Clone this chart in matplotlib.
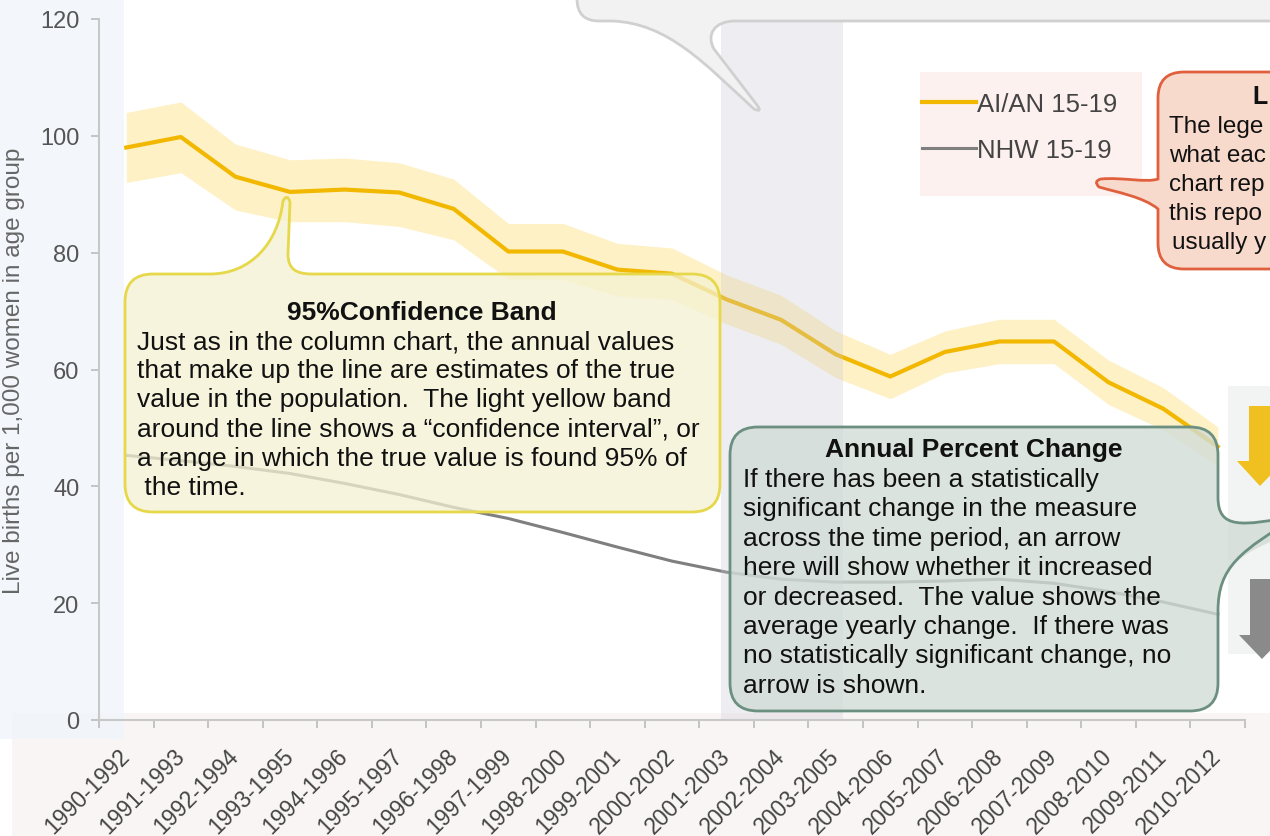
import numpy as np
import matplotlib
matplotlib.use('Agg')
import matplotlib.pyplot as plt
from matplotlib.path import Path
from matplotlib.patches import PathPatch, Rectangle, Polygon

plt.rcParams['font.family'] = ['Liberation Sans', 'DejaVu Sans']

periods = ['1990-1992', '1991-1993', '1992-1994', '1993-1995', '1994-1996', '1995-1997',
           '1996-1998', '1997-1999', '1998-2000', '1999-2001', '2000-2002', '2001-2003',
           '2002-2004', '2003-2005', '2004-2006', '2005-2007', '2006-2008', '2007-2009',
           '2008-2010', '2009-2011', '2010-2012']
aian = [98.0, 99.8, 93.0, 90.4, 90.8, 90.3, 87.5, 80.2, 80.2, 77.1, 76.4,
        72.0, 68.5, 62.6, 58.8, 63.0, 64.8, 64.8, 57.8, 53.3, 46.8]
aian_lo = [92.0, 93.7, 87.3, 85.3, 85.3, 84.5, 82.2, 75.5, 75.4, 72.6, 72.0,
           67.8, 64.3, 58.6, 55.0, 59.4, 61.0, 61.0, 54.0, 49.7, 43.4]
aian_hi = [104.0, 105.8, 98.6, 95.9, 96.2, 95.4, 92.6, 85.0, 85.0, 81.6, 80.8,
           76.2, 72.7, 66.6, 62.6, 66.6, 68.6, 68.6, 61.6, 56.9, 50.2]
nhw = [45.3, 44.4, 43.4, 42.2, 40.5, 38.6, 36.4, 34.5, 32.1, 29.6, 27.2,
       25.3, 24.1, 23.6, 23.6, 23.8, 24.1, 23.4, 22.0, 20.2, 18.1]
yticks = [0, 20, 40, 60, 80, 100, 120]

band_title = '95%Confidence Band'
band_lines = ['Just as in the column chart, the annual values',
              'that make up the line are estimates of the true',
              'value in the population.  The light yellow band',
              'around the line shows a \u201cconfidence interval\u201d, or',
              'a range in which the true value is found 95% of',
              ' the time.']
apc_title = 'Annual Percent Change'
apc_lines = ['If there has been a statistically',
             'significant change in the measure',
             'across the time period, an arrow',
             'here will show whether it increased',
             'or decreased.  The value shows the',
             'average yearly change.  If there was',
             'no statistically significant change, no',
             'arrow is shown.']
# the legend callout runs off the right edge; only these parts are in view
leg_title = 'L'
leg_lines = ['The lege', 'what eac', 'chart rep', 'this repo', 'usually y']

W, H = 1270, 837
fig = plt.figure(figsize=(W / 100, H / 100), dpi=100)

# background strips (pixel coords)
bg = fig.add_axes([0, 0, 1, 1], zorder=0)
bg.set_xlim(0, W); bg.set_ylim(H, 0); bg.axis('off')
bg.add_patch(Rectangle((12, 714), W, H, color='#faf5f5', lw=0))
bg.add_patch(Rectangle((0, 0), 124, 740, color='#eef4fa', alpha=0.7, lw=0))

# main chart
ax = fig.add_axes([99 / W, 1 - 721 / H, 1146 / W, 701 / H], zorder=1)
ax.patch.set_visible(False)
x = np.arange(len(periods))
ax.fill_between(x, aian_lo, aian_hi, color='#fef1c6', lw=0)
ax.plot(x, aian, color='#f2b800', lw=3, label='AI/AN 15-19')
ax.plot(x, nhw, color='#7f7f7f', lw=2.2, label='NHW 15-19')
ax.set_xlim(-0.5, len(periods) - 0.5)
ax.set_ylim(0, 120)
ax.set_yticks(yticks)
ax.set_xticks(np.arange(len(periods) + 1) - 0.5, labels=[])
ax.set_xticks(x, labels=periods, minor=True)
for s in ['top', 'right']:
    ax.spines[s].set_visible(False)
for s in ['left', 'bottom']:
    ax.spines[s].set_color('#c8c8c8')
    ax.spines[s].set_linewidth(1.5)
ax.tick_params(axis='y', length=6, width=1.2, color='#bbbbbb', pad=8,
               labelsize=17, labelcolor='#555555')
ax.tick_params(axis='x', which='major', length=6, width=1.2, color='#bbbbbb')
ax.tick_params(axis='x', which='minor', length=0, pad=23, labelsize=16.5,
               labelcolor='#444444', labelrotation=45)
for lbl in ax.get_xticklabels(minor=True):
    lbl.set_ha('right')
    lbl.set_va('center')
    lbl.set_rotation_mode('anchor')
ax.set_ylabel('Live births per 1,000 women in age group', fontsize=17.5, color='#666666')
ax.yaxis.set_label_coords(-74 / 1146, 0.5)

# overlay for callouts (pixel coords)
ov = fig.add_axes([0, 0, 1, 1], zorder=2)
ov.set_xlim(0, W); ov.set_ylim(H, 0); ov.axis('off')

M, L, C3, C4 = Path.MOVETO, Path.LINETO, Path.CURVE3, Path.CURVE4


def callout(x0, y0, x1, y1, r, side=None, ptr=()):
    v, c = [(x0 + r, y0)], [M]

    def add(code, *pts):
        for p in pts:
            v.append(p); c.append(code)

    def pointer(s):
        if side == s:
            for code, pts in ptr:
                add(code, *pts)

    pointer('top')
    add(L, (x1 - r, y0)); add(C3, (x1, y0), (x1, y0 + r))
    pointer('right')
    add(L, (x1, y1 - r)); add(C3, (x1, y1), (x1 - r, y1))
    pointer('bottom')
    add(L, (x0 + r, y1)); add(C3, (x0, y1), (x0, y1 - r))
    pointer('left')
    add(L, (x0, y0 + r)); add(C3, (x0, y0), (x0 + r, y0))
    add(Path.CLOSEPOLY, (x0 + r, y0))
    return Path(v, c)


# highlighted column
ov.add_patch(Rectangle((721, 0), 122, 720, color='#c9c9d6', alpha=0.3, lw=0, zorder=1))

# legend box
ov.add_patch(Rectangle((920, 73), 222, 124, color='#fcf1ee', lw=0, zorder=1))
leg = ov.legend(handles=ax.get_lines(), loc='upper left', bbox_to_anchor=(922, 93),
                bbox_transform=ov.transData, frameon=False, fontsize=18.5,
                handlelength=2.1, handletextpad=0.05, labelspacing=0.85,
                borderaxespad=0, borderpad=0)
for t in leg.get_texts():
    t.set_color('#444444')

# trend arrows panel
ov.add_patch(Rectangle((1228, 387), 80, 268, color='#f2f3f3', lw=0, zorder=1.5))
ov.add_patch(Polygon([(1249, 407), (1271, 407), (1271, 462), (1284, 462), (1260, 487),
                      (1237, 462), (1249, 462)], closed=True, color='#f0c020', lw=0, zorder=1.6))
ov.add_patch(Polygon([(1250, 580), (1272, 580), (1272, 636), (1285, 636), (1262, 660),
                      (1239, 636), (1250, 636)], closed=True, color='#8a8a8a', lw=0, zorder=1.6))

# top callout (cut by the frame)
top_path = callout(577, -60, 1330, 22, 22, side='bottom',
                   ptr=[(L, [(735, 22)]), (C4, [(714, 22), (706, 36), (714, 50)]),
                        (L, [(757, 106)]), (C3, [(763, 114), (754, 110)]),
                        (C4, [(705, 65), (668, 24), (612, 22)])])
ov.add_patch(PathPatch(top_path, fc='#f2f2f2', ec='#d0d0d0', lw=2, zorder=2))

# confidence band callout
band_path = callout(125, 275, 720, 513, 28, side='top',
                    ptr=[(L, [(210, 275)]), (C4, [(250, 275), (278, 245), (283, 202)]),
                         (C3, [(287, 194), (290, 203)]), (L, [(288, 255)]),
                         (C4, [(288, 270), (296, 275), (312, 275)])])
ov.add_patch(PathPatch(band_path, fc='#f4f1d1', ec='none', alpha=0.75, zorder=2))
ov.add_patch(PathPatch(band_path, fc='none', ec='#e6d84a', lw=2, zorder=2.1))
ov.text(422, 313, band_title, fontsize=19, fontweight='bold', ha='center', va='center',
        color='#111111', zorder=3)
for i, line in enumerate(band_lines):
    ov.text(137, 342 + i * 29.2, line, fontsize=19, ha='left', va='center',
            color='#111111', zorder=3)

# annual percent change callout
apc_path = callout(730, 428, 1218, 712, 28, side='right',
                   ptr=[(L, [(1218, 498)]), (C4, [(1218, 530), (1240, 528), (1300, 516)]),
                        (L, [(1300, 532)]), (C4, [(1240, 552), (1218, 568), (1218, 612)])])
ov.add_patch(PathPatch(apc_path, fc='#d2dcd7', ec='none', alpha=0.8, zorder=2))
ov.add_patch(PathPatch(apc_path, fc='none', ec='#6b8f80', lw=2, zorder=2.1))
ov.text(974, 450, apc_title, fontsize=19, fontweight='bold', ha='center', va='center',
        color='#111111', zorder=3)
for i, line in enumerate(apc_lines):
    ov.text(743, 480 + i * 29.4, line, fontsize=19, ha='left', va='center',
            color='#111111', zorder=3)

# legend callout (cut by the frame)
lg_path = callout(1158, 73, 1440, 270, 26, side='left',
                  ptr=[(L, [(1158, 210)]), (C4, [(1144, 198), (1116, 193), (1099, 188)]),
                       (C3, [(1093, 182), (1101, 180)]),
                       (C4, [(1122, 178), (1146, 184), (1158, 180)])])
ov.add_patch(PathPatch(lg_path, fc='#f8dacd', ec='#e0603e', lw=2, zorder=2))
ov.text(1252, 97, leg_title, fontsize=18, fontweight='bold', ha='left', va='center',
        color='#111111', zorder=3)
for i, line in enumerate(leg_lines):
    ov.text(1172 if i == 4 else 1169, 127 + i * 29, line, fontsize=17.5, ha='left',
            va='center', color='#111111', zorder=3)

plt.savefig('out.png', dpi=100)
